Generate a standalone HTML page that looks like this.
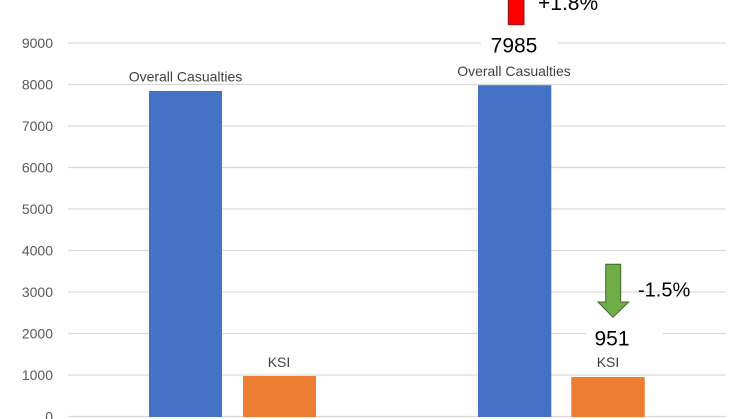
<!DOCTYPE html>
<html>
<head>
<meta charset="utf-8">
<style>
  html, body { margin: 0; padding: 0; background: #ffffff; }
  svg { display: block; }
  text { font-family: "Liberation Sans", "DejaVu Sans", sans-serif; }
</style>
</head>
<body>
<svg width="746" height="419" viewBox="0 0 746 419" xmlns="http://www.w3.org/2000/svg">
  <rect x="0" y="0" width="746" height="419" fill="#ffffff"/>
  <!-- gridlines -->
  <g stroke="#d9d9d9" stroke-width="1.3">
    <line x1="68" y1="43" x2="726" y2="43"/>
    <line x1="68" y1="84.5" x2="726" y2="84.5"/>
    <line x1="68" y1="126" x2="726" y2="126"/>
    <line x1="68" y1="167.5" x2="726" y2="167.5"/>
    <line x1="68" y1="209" x2="726" y2="209"/>
    <line x1="68" y1="250.5" x2="726" y2="250.5"/>
    <line x1="68" y1="292" x2="726" y2="292"/>
    <line x1="68" y1="333.5" x2="726" y2="333.5"/>
    <line x1="68" y1="375" x2="726" y2="375"/>
    <line x1="68" y1="416.5" x2="726" y2="416.5"/>
  </g>
  <!-- y axis labels -->
  <g fill="#595959" font-size="14" text-anchor="end">
    <text x="53" y="48">9000</text>
    <text x="53" y="89.5">8000</text>
    <text x="53" y="131">7000</text>
    <text x="53" y="172.5">6000</text>
    <text x="53" y="214">5000</text>
    <text x="53" y="255.5">4000</text>
    <text x="53" y="297">3000</text>
    <text x="53" y="338.5">2000</text>
    <text x="53" y="380">1000</text>
    <text x="53" y="421.5">0</text>
  </g>
  <!-- bars -->
  <rect x="149" y="91" width="73" height="326" fill="#4472c4"/>
  <rect x="243" y="376" width="73" height="41" fill="#ed7d31"/>
  <rect x="478" y="85.2" width="73.3" height="331.8" fill="#4472c4"/>
  <rect x="571.3" y="377" width="73.4" height="40" fill="#ed7d31"/>
  <!-- category labels -->
  <g fill="#404040" font-size="14" text-anchor="middle">
    <text x="185.5" y="81.5">Overall Casualties</text>
    <text x="514" y="76">Overall Casualties</text>
    <text x="279" y="367">KSI</text>
    <text x="608" y="367">KSI</text>
  </g>
  <!-- value callouts -->
  <rect x="481" y="34" width="77" height="22" fill="#ffffff"/>
  <text x="514" y="52.7" font-size="21" text-anchor="middle" fill="#000000">7985</text>
  <rect x="586" y="324" width="77" height="24" fill="#ffffff"/>
  <text x="612" y="345.7" font-size="21" text-anchor="middle" fill="#000000">951</text>
  <!-- red arrow (cut at top) -->
  <rect x="508.3" y="-2" width="15.7" height="26.7" fill="#ff0000" stroke="#8b1a1a" stroke-width="1"/>
  <text x="538" y="10" font-size="21" fill="#000000">+1.8%</text>
  <!-- green arrow -->
  <polygon points="605.7,264.3 620.7,264.3 620.7,302 628.7,302 613,317.3 598,302 605.7,302" fill="#70ad47" stroke="#42672a" stroke-width="1"/>
  <text x="638" y="296.7" font-size="20" fill="#000000">-1.5%</text>
</svg>
</body>
</html>
